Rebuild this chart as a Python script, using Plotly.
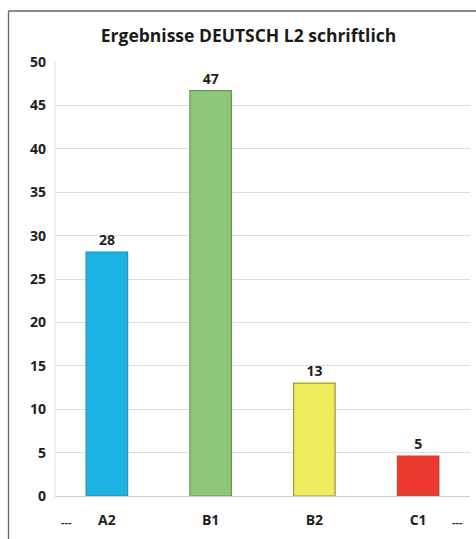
import plotly.graph_objects as go

categories = ["A2", "B1", "B2", "C1"]
values = [28.1, 46.7, 13.0, 4.6]
labels = ["28", "47", "13", "5"]
fill_colors = ["#1cb3e4", "#8dc877", "#eeeb5c", "#ee3a2e"]
line_colors = ["#2a8fb0", "#6f8f66", "#9a9640", "#b84a3f"]
y_ticks = [0, 5, 10, 15, 20, 25, 30, 35, 40, 45, 50]

W, H = 476, 539
L, R, T, B = 55, 6, 62, 43
pw = W - L - R
ph = H - T - B

FONT = "Open Sans"

fig = go.Figure(go.Bar(
    x=categories, y=values, width=0.4,
    marker=dict(color=fill_colors, line=dict(color=line_colors, width=1.2)),
    text=labels, textposition="outside", cliponaxis=False,
    textfont=dict(family=FONT, size=14, color="#1e1e1e", weight="bold"),
))

def px_x(p):
    return (p - L) / pw

def px_y(p):
    return (H - B - p) / ph

fig.update_layout(
    width=W, height=H,
    margin=dict(l=L, r=R, t=T, b=B, autoexpand=False),
    paper_bgcolor="white", plot_bgcolor="white",
    title=dict(text="<b>Ergebnisse DEUTSCH L2 schriftlich</b>", x=248.5 / W, xref="container",
               xanchor="center", y=1 - 36 / H, yanchor="middle",
               font=dict(family=FONT, size=17.5, color="#1a1a1a")),
    showlegend=False,
    xaxis=dict(range=[-0.5, 3.5], showgrid=False, showline=False, zeroline=False,
               ticks="", automargin=False,
               tickfont=dict(family=FONT, size=14, color="#1e1e1e", weight="bold"),
               ticklabelstandoff=14),
    yaxis=dict(range=[0, 50], tickvals=y_ticks, showgrid=True, gridcolor="#dcdcdc",
               gridwidth=1.3, zeroline=True, zerolinecolor="#cfcfcf", zerolinewidth=1.3,
               showline=False, ticks="", automargin=False,
               tickfont=dict(family=FONT, size=14, color="#1e1e1e", weight="bold"),
               ticklabelstandoff=8),
    shapes=[
        dict(type="line", xref="paper", yref="paper", x0=px_x(8.5), x1=px_x(480),
             y0=px_y(11), y1=px_y(11), line=dict(color="#666666", width=1.3)),
        dict(type="line", xref="paper", yref="paper", x0=px_x(8.5), x1=px_x(8.5),
             y0=px_y(11), y1=px_y(545), line=dict(color="#666666", width=1.3)),
        dict(type="line", xref="paper", yref="paper", x0=0, x1=0,
             y0=0, y1=1, line=dict(color="#e4e4e4", width=1)),
    ],
    annotations=[
        dict(text="<b>---</b>", xref="paper", yref="paper", x=px_x(66), y=px_y(521),
             xanchor="center", yanchor="middle",
             showarrow=False, font=dict(family=FONT, size=11, color="#333333")),
        dict(text="<b>---</b>", xref="paper", yref="paper", x=px_x(457), y=px_y(521),
             xanchor="center", yanchor="middle",
             showarrow=False, font=dict(family=FONT, size=11, color="#333333")),
    ],
)

fig.write_html("out.html", config={"displayModeBar": False},
               post_script="document.body.style.margin='0';document.body.style.overflow='hidden';")
